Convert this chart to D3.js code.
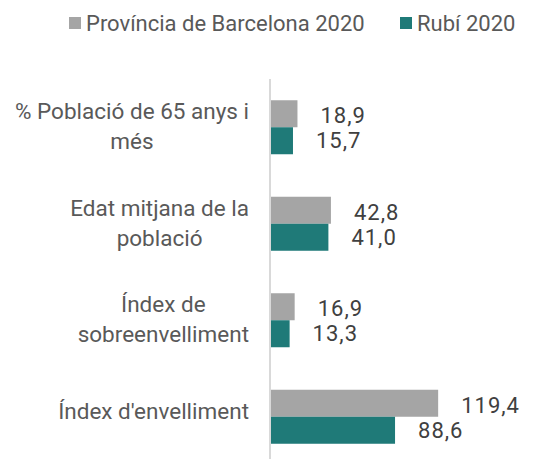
<!DOCTYPE html>
<html>
<head>
<meta charset="utf-8">
<script src="https://cdn.jsdelivr.net/npm/d3@7"></script>
<style>
  body { margin: 0; background: #fff; }
  svg { font-family: "Roboto", "Liberation Sans", sans-serif; }
</style>
</head>
<body>
<svg width="551" height="459"></svg>
<script>
// data
var categories = [
  ["% Població de 65 anys i", "més"],
  ["Edat mitjana de la", "població"],
  ["Índex de", "sobreenvelliment"],
  ["Índex d'envelliment"]
];
var seriesNames = ["Província de Barcelona 2020", "Rubí 2020"];
var barcelona = [18.9, 42.8, 16.9, 119.4];
var rubi = [15.7, 41.0, 13.3, 88.6];
var colors = ["#a5a5a5", "#1f7a78"];

var svg = d3.select("svg");
var fmt = function(v){ return d3.format(".1f")(v).replace(".", ","); };

var y0 = d3.scaleBand()
  .domain(d3.range(categories.length))
  .range([79, 465]);

var y1 = d3.scaleBand()
  .domain([0, 1])
  .range([0, y0.bandwidth()])
  .paddingInner(0)
  .paddingOuter(0.787);

var x = d3.scaleLinear()
  .domain([0, 140])
  .range([271, 467]);

var rows = categories.map(function(c, i){
  return {i: i, vals: [barcelona[i], rubi[i]]};
});

var groups = svg.selectAll("g.grp")
  .data(rows)
  .enter()
  .append("g")
  .attr("class", "grp")
  .attr("transform", function(d){ return "translate(0," + y0(d.i) + ")"; });

groups.selectAll("rect")
  .data(function(d){ return d.vals.map(function(v, s){ return {v: v, s: s}; }); })
  .enter()
  .append("rect")
  .attr("x", x(0))
  .attr("y", function(d){ return y1(d.s); })
  .attr("width", function(d){ return x(d.v) - x(0); })
  .attr("height", y1.bandwidth())
  .attr("fill", function(d){ return colors[d.s]; });

groups.selectAll("text.val")
  .data(function(d){ return d.vals.map(function(v, s){ return {v: v, s: s}; }); })
  .enter()
  .append("text")
  .attr("class", "val")
  .attr("x", function(d){ return x(d.v) + 23; })
  .attr("y", function(d){ return y1(d.s) + y1.bandwidth() / 2 + (d.s == 0 ? 2 : 0); })
  .attr("dominant-baseline", "central")
  .attr("font-size", 22)
  .attr("letter-spacing", 1)
  .attr("fill", "#404040")
  .text(function(d){ return fmt(d.v); });

// category labels, lines centred on each other, block right edge at 249
groups.each(function(d){
  var lines = categories[d.i];
  var g = d3.select(this);
  var t = g.append("text")
    .attr("font-size", 22.5)
    .attr("fill", "#595959")
    .attr("text-anchor", "middle");
  var lh = 30;
  var cy = y0.bandwidth() / 2 - (lines.length - 1) * lh / 2 - (lines.length == 1 ? 5 : 0);
  lines.forEach(function(l, k){
    t.append("tspan").attr("x", 0).attr("y", cy + k * lh).attr("dy", "0.32em").text(l);
  });
  var w = t.node().getBBox().width;
  t.selectAll("tspan").attr("x", 249 - w / 2);
});

// axis line
svg.append("line")
  .attr("x1", 270).attr("x2", 270)
  .attr("y1", 79).attr("y2", 459)
  .attr("stroke", "#d9d9d9")
  .attr("stroke-width", 2);

// legend
var legX = [69, 400];
var leg = svg.selectAll("g.leg")
  .data(seriesNames)
  .enter()
  .append("g")
  .attr("class", "leg")
  .attr("transform", function(d, i){ return "translate(" + legX[i] + ",17)"; });
leg.append("rect").attr("width", 12).attr("height", 12)
  .attr("fill", function(d, i){ return colors[i]; });
leg.append("text")
  .attr("x", 17).attr("y", 6)
  .attr("dominant-baseline", "central")
  .attr("font-size", 22)
  .attr("fill", "#595959")
  .text(function(d){ return d; });
</script>
</body>
</html>
